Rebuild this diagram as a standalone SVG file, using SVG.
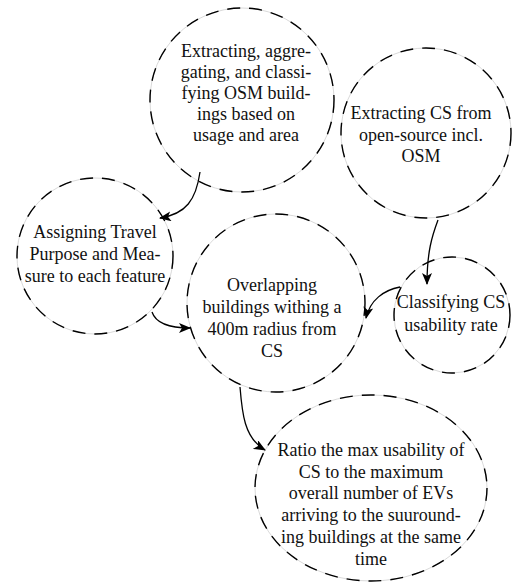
<svg xmlns="http://www.w3.org/2000/svg" width="512" height="585" viewBox="0 0 512 585">
<defs>
<marker id="arr" viewBox="0 0 12 10" refX="11" refY="5" markerWidth="12" markerHeight="10" markerUnits="userSpaceOnUse" orient="auto">
<path d="M0,0 L12,5 L0,10 L3,5 Z" fill="#000"/>
</marker>
</defs>
<style>
.base{fill:#fff;stroke:#c8c8c8;stroke-width:0.7}
.dash{fill:none;stroke:#000;stroke-width:1.4;stroke-dasharray:13 9}
.t{font-family:'Liberation Serif','Times New Roman',serif;font-size:18px;fill:#111;text-anchor:middle}
.conn{fill:none;stroke:#000;stroke-width:1.3}
</style>
<rect width="512" height="585" fill="#fff"/>
<g id="n1">
<circle class="base" cx="242" cy="100" r="92"/>
<circle class="dash" cx="242" cy="100" r="92"/>
<text class="t" font-family="Liberation Serif, serif" x="246" y="57">Extracting, aggre-</text>
<text class="t" font-family="Liberation Serif, serif" x="246" y="78">gating, and classi-</text>
<text class="t" font-family="Liberation Serif, serif" x="246" y="99">fying OSM build-</text>
<text class="t" font-family="Liberation Serif, serif" x="246" y="120">ings based on</text>
<text class="t" font-family="Liberation Serif, serif" x="246" y="141">usage and area</text>
</g>
<g id="n2">
<circle class="base" cx="426" cy="133" r="85"/>
<circle class="dash" cx="426" cy="133" r="85"/>
<text class="t" font-family="Liberation Serif, serif" x="421" y="119">Extracting CS from</text>
<text class="t" font-family="Liberation Serif, serif" x="421" y="141">open-source incl.</text>
<text class="t" font-family="Liberation Serif, serif" x="421" y="162">OSM</text>
</g>
<g id="n3">
<circle class="base" cx="95" cy="256" r="78"/>
<circle class="dash" cx="95" cy="256" r="78"/>
<text class="t" font-family="Liberation Serif, serif" x="95" y="238">Assigning Travel</text>
<text class="t" font-family="Liberation Serif, serif" x="95" y="260">Purpose and Mea-</text>
<text class="t" font-family="Liberation Serif, serif" x="95" y="282">sure to each feature</text>
</g>
<g id="n4">
<circle class="base" cx="276" cy="303" r="89"/>
<circle class="dash" cx="276" cy="303" r="89"/>
<text class="t" font-family="Liberation Serif, serif" x="272" y="291">Overlapping</text>
<text class="t" font-family="Liberation Serif, serif" x="272" y="313">buildings withing a</text>
<text class="t" font-family="Liberation Serif, serif" x="272" y="335">400m radius from</text>
<text class="t" font-family="Liberation Serif, serif" x="272" y="357">CS</text>
</g>
<g id="n5">
<circle class="base" cx="452" cy="315" r="58"/>
<circle class="dash" cx="452" cy="315" r="58"/>
<text class="t" font-family="Liberation Serif, serif" x="451" y="308">Classifying CS</text>
<text class="t" font-family="Liberation Serif, serif" x="451" y="331">usability rate</text>
</g>
<g id="n6">
<ellipse class="base" cx="371" cy="488" rx="116" ry="93"/>
<ellipse class="dash" cx="371" cy="488" rx="116" ry="93"/>
<text class="t" font-family="Liberation Serif, serif" x="371" y="456">Ratio the max usability of</text>
<text class="t" font-family="Liberation Serif, serif" x="371" y="478">CS to the maximum</text>
<text class="t" font-family="Liberation Serif, serif" x="371" y="499">overall number of EVs</text>
<text class="t" font-family="Liberation Serif, serif" x="371" y="521">arriving to the suuround-</text>
<text class="t" font-family="Liberation Serif, serif" x="371" y="543">ing buildings at the same</text>
<text class="t" font-family="Liberation Serif, serif" x="371" y="565">time</text>
</g>
<g id="connectors">
<path class="conn" d="M200,172 C196,200 186,214 160,218" marker-end="url(#arr)"/>
<path class="conn" d="M152,312 C156,324 170,328 190,328" marker-end="url(#arr)"/>
<path class="conn" d="M438,220 C432,236 427,252 427,284" marker-end="url(#arr)"/>
<path class="conn" d="M400,287 C384,290 370,300 366,318" marker-end="url(#arr)"/>
<path class="conn" d="M240,387 C242,412 244,438 265,450" marker-end="url(#arr)"/>
</g>
</svg>
